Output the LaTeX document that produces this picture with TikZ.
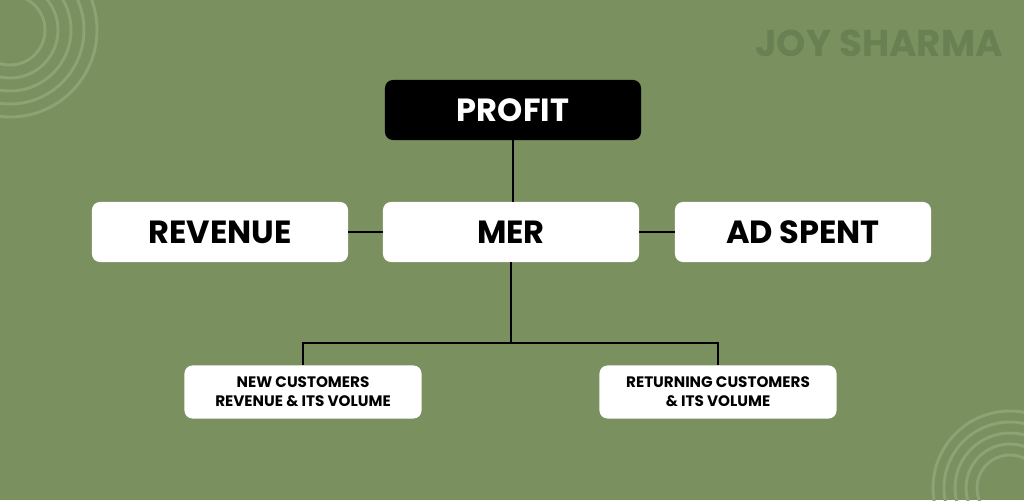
\documentclass[tikz,border=0pt]{standalone}
\usepackage{fontspec}
\setmainfont{Poppins}
\usetikzlibrary{positioning}

\definecolor{bggreen}{RGB}{122,144,95}
\definecolor{ringgreen}{RGB}{141,162,117}
\definecolor{markgreen}{RGB}{104,128,82}

\tikzset{
  topbox/.style={fill=black, text=white, rounded corners=0.2cm,
    minimum width=6.4cm, minimum height=1.5cm,
    font=\fontsize{22.8}{28}\selectfont\bfseries},
  midbox/.style={fill=white, text=black, rounded corners=0.2cm,
    minimum width=6.4cm, minimum height=1.5cm,
    font=\fontsize{22.8}{28}\selectfont\bfseries},
  subbox/.style={fill=white, text=black, rounded corners=0.2cm,
    minimum width=5.925cm, minimum height=1.325cm, align=center,
    font=\fontsize{10.8}{13.5}\selectfont\bfseries},
  link/.style={draw=black, line width=1pt},
  ring/.style={draw=ringgreen, line width=2.1pt}
}

\begin{document}
\begin{tikzpicture}[x=0.025cm, y=-0.025cm]
\fill[bggreen] (0,0) rectangle (1024,500);
\useasboundingbox (0,0) rectangle (1024,500);

% corner rings
\begin{scope}
\clip (0,0) rectangle (1024,500);
\foreach \r in {35,48,61,74,87}
  \draw[ring] (10,30) circle[radius=\r];
\foreach \r in {33,44,55,66,77}
  \draw[ring] (1010,488) circle[radius=\r];
\end{scope}

\node[font=\fontsize{26.5}{30}\selectfont\bfseries, text=markgreen] (brand) at (879,43) {JOY SHARMA};

\node[topbox] (profit) at (513,110) {PROFIT};
\node[midbox] (revenue) at (220,232) {REVENUE};
\node[midbox] (mer) at (511,232) {MER};
\node[midbox] (adspent) at (803,232) {AD SPENT};
\node[subbox] (newcust) at (303,392) {NEW CUSTOMERS\\REVENUE \& ITS VOLUME};
\node[subbox] (retcust) at (718,392) {RETURNING CUSTOMERS\\\& ITS VOLUME};

\coordinate (split) at (511,343);
\draw[link] (profit.south) -- (profit.south |- mer.north);
\draw[link] (revenue) -- (mer);
\draw[link] (mer) -- (adspent);
\draw[link] (mer.south) -- (split);
\draw[link] (newcust.north) |- (split) -| (retcust.north);
\end{tikzpicture}
\end{document}
